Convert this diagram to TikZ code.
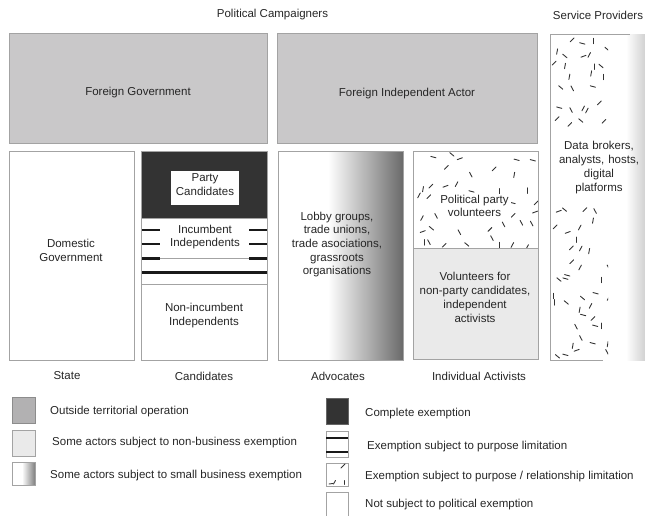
\documentclass[tikz,border=0pt]{standalone}
\usepackage{fontspec}
\setmainfont{Liberation Sans}
\definecolor{boxgray}{HTML}{C9C8C9}
\definecolor{leggray}{HTML}{B2B1B2}
\definecolor{edgegray}{HTML}{A3A3A3}
\definecolor{darkfill}{HTML}{333333}
\definecolor{lightfill}{HTML}{EAEAEA}
\definecolor{txt}{HTML}{262626}
\definecolor{gradend}{HTML}{6A6A6A}
\newcommand\dashfield[6]{% x0,y0,nx,ny,spacing,keep-probability
  \foreach \i in {1,...,#3} \foreach \j in {1,...,#4} {
    \pgfmathsetmacro\px{#1+(\i-0.5)*#5+rand*#5*0.38}
    \pgfmathsetmacro\py{#2+(\j-0.5)*#5+rand*#5*0.38}
    \pgfmathsetmacro\ang{{90,62,118,135,40,160,15,100}[random(0,7)]}
    \pgfmathsetmacro\keep{rnd}
    \ifdim\keep pt<#6pt
      \draw[dashmark] (\px,\py) ++(\ang:2.7) -- ++(\ang+180:5.4);
    \fi
  }}
\begin{document}
\begin{tikzpicture}[x=1pt,y=-1pt,
  lbl/.style={font=\fontsize{11.5}{13.8}\selectfont, text=txt, align=center, inner sep=0pt},
  legtxt/.style={lbl, anchor=west, align=left},
  boxline/.style={draw=edgegray, line width=0.9pt},
  stripe/.style={line width=2.7pt, draw=black!90},
  thinline/.style={line width=0.7pt, draw=edgegray},
  dashmark/.style={line width=0.9pt, draw=black!80, line cap=round}]
\useasboundingbox (0,0) rectangle (645,515);
\pgfmathsetseed{11}

% headings
\node[lbl] (pc) at (272.5,15) {Political Campaigners};
\node[lbl] (sp) at (598,15) {Service Providers};

% foreign boxes
\path[boxline, fill=boxgray] (9,33) rectangle (267,143);
\node[lbl] (fg) at (138,93) {Foreign Government};
\path[boxline, fill=boxgray] (277.5,33) rectangle (537.5,143);
\node[lbl] (fia) at (407,94) {Foreign Independent Actor};

% service providers column
\shade[left color=white, right color=black!18] (626,34) rectangle (645,360);
\begin{scope}
  \clip (551,35) rectangle (608,359);
  \dashfield{551}{36}{5}{8}{11.5}{0.6}
  \dashfield{551}{206}{5}{13}{11.8}{0.6}
\end{scope}
\draw[boxline] (630,34) -- (550.5,34) -- (550.5,360) -- (603,360);
\node[lbl, text width=90pt, font=\fontsize{11.5}{14.3}\selectfont] (dp) at (599,167.5) {Data brokers,\\analysts, hosts,\\digital\\platforms};

% domestic government
\path[boxline, fill=white] (9,151) rectangle (134,360);
\node[lbl] (dg) at (71,250) {Domestic\\Government};

% candidates column
\path[fill=white] (141,151) rectangle (267,360);
\path[fill=darkfill] (141,151) rectangle (267,218);
\path[fill=white] (171,171) rectangle (239,205);
\node[lbl] (pcand) at (205,184.5) {Party\\Candidates};
\draw[stripe] (141,230) -- (160,230);
\draw[stripe] (249,230) -- (267,230);
\draw[stripe] (141,244) -- (160,244);
\draw[stripe] (249,244) -- (267,244);
\draw[stripe] (141,258.3) -- (160,258.3);
\draw[stripe] (249,258.3) -- (267,258.3);
\draw[thinline] (160,258.3) -- (249,258.3);
\draw[stripe] (141,272.7) -- (267,272.7);
\draw[thinline] (141,284) -- (267,284);
\draw[thinline] (141,218) -- (267,218);
\node[lbl] (inc) at (205,237) {Incumbent\\Independents};
\node[lbl] (ninc) at (204,315.5) {Non-incumbent\\Independents};
\draw[boxline] (141,151) rectangle (267,360);

% advocates
\path[fill=white] (278,151) rectangle (403,360);
\shade[left color=white, right color=gradend] (328,151) rectangle (403,360);
\draw[boxline] (278,151) rectangle (403,360);
\node[lbl, font=\fontsize{11.5}{13.7}\selectfont] (adv) at (337,244.5) {Lobby groups,\\trade unions,\\trade asociations,\\grassroots\\organisations};

% individual activists
\path[fill=lightfill] (413,248) rectangle (538,359);
\begin{scope}
  \clip (413,151.5) rectangle (538,248);
  \dashfield{413}{151.5}{9}{7}{13.9}{0.65}
\end{scope}
\node[lbl, fill=white, inner sep=2pt, font=\fontsize{11.5}{12.5}\selectfont] (ppv) at (474.5,206) {Political party\\volunteers};
\draw[boxline] (413,151.5) rectangle (538,359);
\draw[boxline] (413,248) -- (538,248);
\node[lbl] (vol) at (475,297.5) {Volunteers for\\non-party candidates,\\independent\\activists};

% column labels
\node[lbl] (state) at (67,376) {State};
\node[lbl] (cand) at (204,376) {Candidates};
\node[lbl] (advl) at (338,376) {Advocates};
\node[lbl] (ind) at (479,376) {Individual Activists};

% legend left
\path[draw=black!45, line width=0.9pt, fill=leggray] (12.7,397.5) rectangle (35,423);
\path[draw=edgegray, line width=0.9pt, fill=lightfill] (12.7,430) rectangle (35,456);
\path[fill=white] (12.7,462) rectangle (35,485);
\shade[left color=white, right color=black!50] (22,462) rectangle (35,485);
\draw[draw=edgegray, line width=0.9pt] (12.7,462) rectangle (35,485);
\node[legtxt] (l1) at (50,412) {Outside territorial operation};
\node[legtxt] (l2) at (52,443) {Some actors subject to non-business exemption};
\node[legtxt] (l3) at (50,476) {Some actors subject to small business exemption};

% legend right
\path[draw=black!60, line width=0.9pt, fill=darkfill] (326,398) rectangle (348,424);
\path[draw=edgegray, line width=0.9pt, fill=white] (326,431) rectangle (348,457);
\draw[stripe] (326,438) -- (348,438);
\draw[stripe] (326,452) -- (348,452);
\draw[draw=edgegray, line width=0.9pt] (326,463) rectangle (348,486);
\draw[dashmark] (341,468) -- (345,464);
\draw[dashmark] (329,484) -- (333,483.5);
\draw[dashmark] (333.5,484) -- (335.5,480.5);
\draw[dashmark] (344,484.5) -- (344,480.5);
\draw[draw=edgegray, line width=0.9pt] (326,516) -- (326,492) -- (348,492) -- (348,516);
\node[legtxt] (r1) at (365,414) {Complete exemption};
\node[legtxt] (r2) at (367,447) {Exemption subject to purpose limitation};
\node[legtxt] (r3) at (365,477) {Exemption subject to purpose / relationship limitation};
\node[legtxt] (r4) at (365,505) {Not subject to political exemption};
\end{tikzpicture}
\end{document}
